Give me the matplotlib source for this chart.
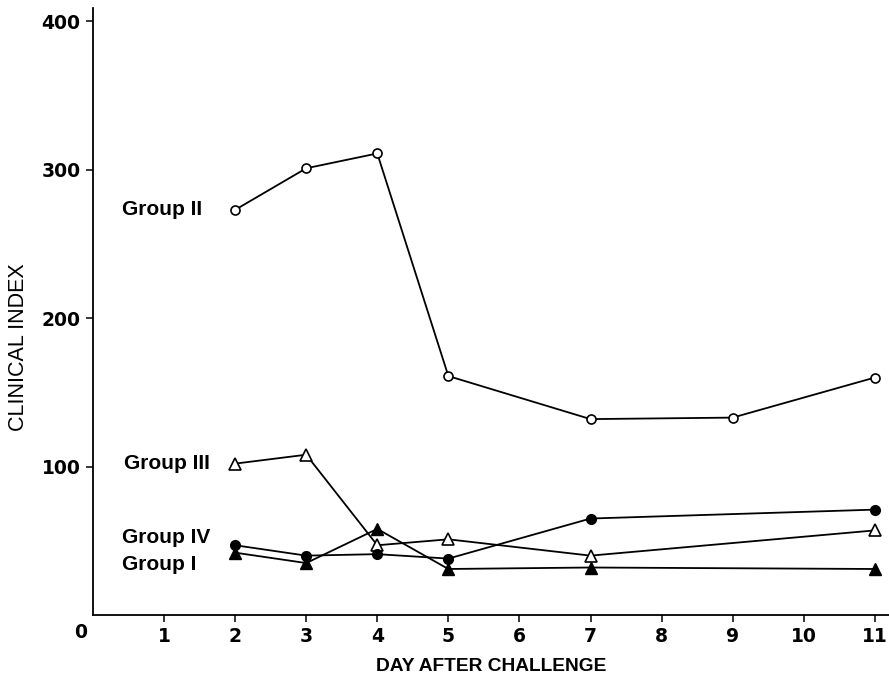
import matplotlib
matplotlib.use("Agg")
import matplotlib.pyplot as plt

plt.rcParams['font.family'] = ['Liberation Sans', 'DejaVu Sans']

days_II = [2, 3, 4, 5, 7, 9, 11]
group_II = [273, 301, 311, 161, 132, 133, 160]

days = [2, 3, 4, 5, 7, 11]
group_III = [102, 108, 47, 51, 40, 57]
group_IV = [47, 40, 41, 38, 65, 71]
group_I = [42, 35, 58, 31, 32, 31]

xticks = [1, 2, 3, 4, 5, 6, 7, 8, 9, 10, 11]
yticks = [100, 200, 300, 400]

fig = plt.figure(figsize=(8.89, 6.79), dpi=100)
ax = fig.add_axes([93/889, 64/679, 1 - 93/889, (615 - 8)/679])

lw = 1.3
ax.plot(days_II, group_II, color='black', lw=lw, marker='o', ms=6.5,
        mfc='white', mec='black', mew=1.2, zorder=3)
ax.plot(days, group_III, color='black', lw=lw, marker='^', ms=8,
        mfc='white', mec='black', mew=1.2, zorder=3)
ax.plot(days, group_IV, color='black', lw=lw, marker='o', ms=7,
        mfc='black', mec='black', zorder=3)
ax.plot(days, group_I, color='black', lw=lw, marker='^', ms=8,
        mfc='black', mec='black', zorder=3)

tick_font = dict(family=['DejaVu Sans'], size=13.5, weight='bold')
ax.set_xlim(0, 11.2)
ax.set_ylim(0, 409)
ax.set_xticks(xticks)
ax.set_yticks(yticks)
ax.set_xticklabels([str(t) for t in xticks], fontdict=tick_font)
ax.set_yticklabels([str(t) for t in yticks], fontdict=tick_font)
ax.tick_params(axis='both', direction='out', length=5, width=1.1, pad=4)
for s in ['top', 'right']:
    ax.spines[s].set_visible(False)
for s in ['left', 'bottom']:
    ax.spines[s].set_linewidth(1.3)

ax.text(-0.17, -11.5, '0', ha='center', va='center', fontdict=tick_font)

ax.set_xlabel('DAY AFTER CHALLENGE', fontsize=13.8, fontweight='bold', labelpad=8)
ax.set_ylabel('CLINICAL INDEX', family=['Liberation Sans'], fontsize=15.5)
ax.yaxis.set_label_coords(-0.093, 0.4415)
ax.yaxis.label.set_va('center')

lab_kw = dict(fontsize=15, fontweight='bold', ha='left', va='center')
ax.text(0.41, 273, 'Group II', **lab_kw)
ax.text(0.44, 102, 'Group III', **lab_kw)
ax.text(0.41, 52, 'Group IV', **lab_kw)
ax.text(0.41, 34, 'Group I', **lab_kw)

fig.savefig('out.png', dpi=100)
